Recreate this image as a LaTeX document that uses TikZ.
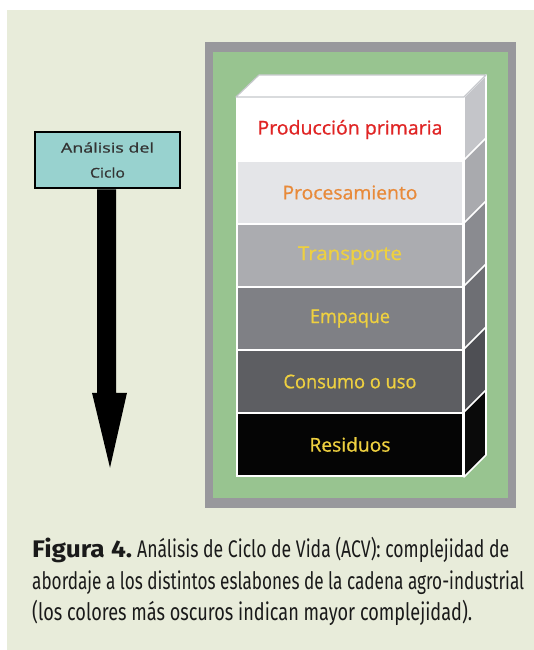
\documentclass[tikz,border=0pt]{standalone}
\usepackage{fontspec}
\newfontfamily\labfont[FakeBold=0.8]{Open Sans}
\newfontfamily\capfont{Fira Sans}
\usetikzlibrary{calc}
\definecolor{bgbeige}{HTML}{E8ECDA}
\definecolor{framegray}{HTML}{98989C}
\definecolor{framegreen}{HTML}{98C490}
\definecolor{boxteal}{HTML}{98D2CF}
\definecolor{topedge}{HTML}{C6C8CC}
\definecolor{fA}{HTML}{FFFFFF}
\definecolor{fB}{HTML}{E4E5E8}
\definecolor{fC}{HTML}{ABACB0}
\definecolor{fD}{HTML}{7F8085}
\definecolor{fE}{HTML}{5D5E62}
\definecolor{fF}{HTML}{050505}
\definecolor{sA}{HTML}{C4C5C9}
\definecolor{sB}{HTML}{A9AAAE}
\definecolor{sC}{HTML}{8A8B90}
\definecolor{sD}{HTML}{6E6F74}
\definecolor{sE}{HTML}{4E4F54}
\definecolor{sF}{HTML}{0A0A0A}
\definecolor{tRed}{HTML}{E02424}
\definecolor{tOrange}{HTML}{E88A3A}
\definecolor{tYellow}{HTML}{EED040}
\definecolor{capink}{HTML}{1A1A1A}
\newlength\fitlen
\newcommand\fitto[2]{\settowidth\fitlen{#2}\pgfmathsetmacro\fitratio{#1/\fitlen}\scalebox{\fitratio}[1]{#2}}
\tikzset{
  layer/.style={draw=white, line width=2pt, minimum width=226pt, minimum height=63pt, inner sep=0pt,
    font=\labfont\fontsize{19}{21}\selectfont},
  sideface/.style={draw=white, line width=1.6pt, line join=round},
  capline/.style={anchor=base west, inner sep=0pt, text=capink},
}
\newcommand\capsize{\capfont\fontsize{24}{28}\selectfont}
\begin{document}
\begin{tikzpicture}[x=1pt,y=-1pt]
\useasboundingbox (0,0) rectangle (534,650);
\fill[white] (0,0) rectangle (534,650);
\fill[bgbeige] (7,10) rectangle (534,650);
\fill[framegray] (205,42) rectangle (516,508);
\fill[framegreen] (212.5,52) rectangle (508,498);

% front faces
\node[layer, fill=fA, text=tRed] (L1) at (350,129.5) {\fitto{185}{Producción primaria}};
\node[layer, fill=fB, text=tOrange] (L2) at (350,192.5) {\fitto{135}{Procesamiento}};
\node[layer, fill=fC, text=tYellow] (L3) at (350,255.5) {\fitto{104}{Transporte}};
\node[layer, fill=fD, text=tYellow] (L4) at (350,318.5) {\fitto{80}{Empaque}};
\node[layer, fill=fE, text=tYellow] (L5) at (350,381.5) {\fitto{133}{Consumo o uso}};
\node[layer, fill=fF, text=tYellow] (L6) at (350,444.5) {\fitto{81}{Residuos}};

% side faces
\foreach \L/\c in {L1/sA,L2/sB,L3/sC,L4/sD,L5/sE,L6/sF}{
  \filldraw[sideface, fill=\c] (\L.north east) -- ++(22,-22) -- ($(\L.south east)+(22,-22)$) -- (\L.south east) -- cycle;
}
% top face
\filldraw[fill=white, draw=topedge, line width=1.2pt, line join=round]
  (L1.north west) -- ++(23,-22) -- ($(L1.north east)+(22,-22)$) -- (L1.north east) -- cycle;

% analysis box and arrow
\node[draw=black, line width=1.5pt, fill=boxteal, minimum width=145pt, minimum height=56pt, inner sep=0pt,
  align=center, font=\labfont\fontsize{13.5}{25}\selectfont, text=black!80] (A) at (107.5,160)
  {\fitto{93}{Análisis del}\\\fitto{35}{Ciclo}};
\fill[black] ($(A.south)+(-10.5,0.5)$) -- ($(A.south)+(-10.5,204)$) -- ($(A.south)+(-15.5,204)$)
  -- ($(A.south)+(2.5,279)$) -- ($(A.south)+(19.5,204)$) -- ($(A.south)+(8.5,204)$) -- ($(A.south)+(8.5,0.5)$) -- cycle;

% caption
\node[capline] (C1) at (32,557) {\capsize\fitto{100}{\bfseries Figura 4.}\hspace{5pt}\fitto{372}{Análisis de Ciclo de Vida (ACV): complejidad de}};
\node[capline] (C2) at (32,589) {\capsize\fitto{492}{abordaje a los distintos eslabones de la cadena agro-industrial}};
\node[capline] (C3) at (32,620) {\capsize\fitto{440}{(los colores más oscuros indican mayor complejidad).}};
\end{tikzpicture}
\end{document}
